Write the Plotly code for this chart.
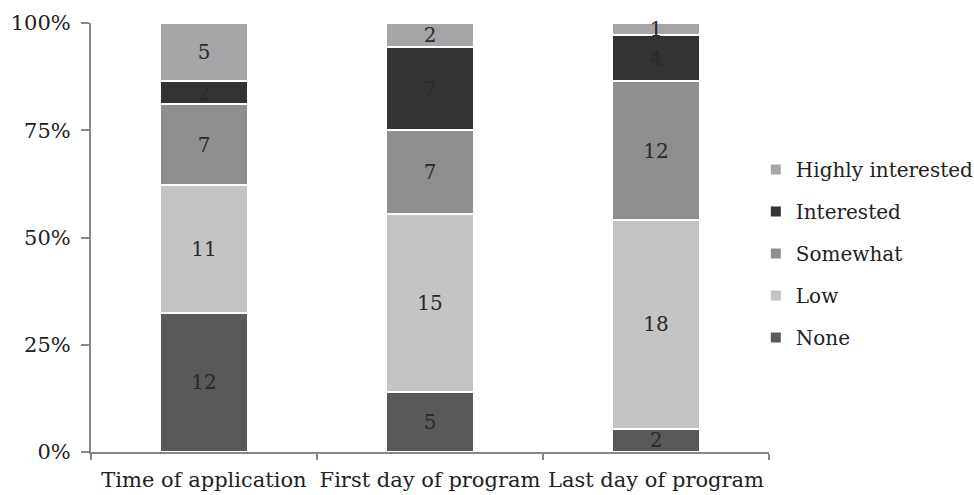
import plotly.graph_objects as go

categories = ["Time of application", "First day of program", "Last day of program"]
levels = ["None", "Low", "Somewhat", "Interested", "Highly interested"]
none_vals = [12, 5, 2]
low_vals = [11, 15, 18]
somewhat_vals = [7, 7, 12]
interested_vals = [2, 7, 4]
highly_vals = [5, 2, 1]
y_ticks = [0, 25, 50, 75, 100]

series = [none_vals, low_vals, somewhat_vals, interested_vals, highly_vals]
colors = ["#595959", "#c4c4c4", "#8e8e8f", "#333333", "#a6a6a8"]
FONT = "DejaVu Serif"

fig = go.Figure()
for i, (name, vals, col) in enumerate(zip(levels, series, colors)):
    fig.add_trace(go.Bar(
        x=categories, y=vals, name=name, legendgroup=name,
        legendrank=len(levels) - i,
        marker=dict(color=col, line=dict(color="white", width=2)),
        text=[str(v) for v in vals], textposition="inside",
        insidetextanchor="middle", textangle=0, constraintext="none",
        textfont=dict(family=FONT, size=20, color="#2a2a2a"),
        cliponaxis=False,
    ))

fig.update_layout(
    barmode="stack", barnorm="percent", bargap=0.61,
    width=974, height=495,
    margin=dict(l=91, r=205, t=23, b=43, autoexpand=False),
    plot_bgcolor="white", paper_bgcolor="white",
    font=dict(family=FONT, size=20, color="#222222"),
    uniformtext=dict(minsize=20, mode="show"),
    showlegend=True,
    legend=dict(
        traceorder="grouped", xref="container", yref="container",
        x=0.776, xanchor="left", y=0.697, yanchor="top",
        font=dict(family=FONT, size=20, color="#222222"),
        tracegroupgap=13, itemwidth=30,
    ),
)
fig.update_xaxes(
    showline=True, linecolor="#888888", linewidth=2,
    ticks="outside", tickson="boundaries", ticklen=6, tickcolor="#888888", tickwidth=2,
    showgrid=False, ticklabelstandoff=8, tickangle=0,
    tickfont=dict(family=FONT, size=21, color="#222222"),
)
fig.update_yaxes(
    range=[0, 100], tickvals=y_ticks, ticktext=[f"{t}%" for t in y_ticks],
    showline=True, linecolor="#888888", linewidth=2,
    ticks="outside", ticklen=8, tickcolor="#888888", tickwidth=2,
    showgrid=False, zeroline=False, ticklabelstandoff=6,
    tickfont=dict(family=FONT, size=21, color="#222222"),
)

fig.write_html("out.html")
